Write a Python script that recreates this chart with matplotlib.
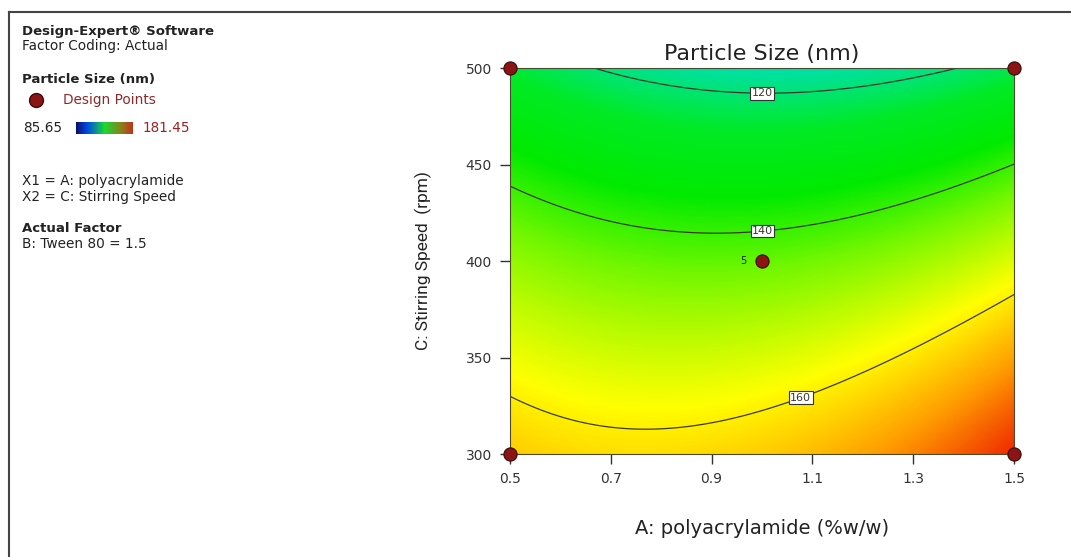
import numpy as np
import matplotlib.pyplot as plt
from matplotlib.colors import LinearSegmentedColormap
from matplotlib.lines import Line2D

# factor ranges (actual units)
a_range = [0.5, 1.5]      # A: polyacrylamide (%w/w)
c_range = [300, 500]      # C: Stirring Speed (rpm)
tween = 1.5

# quadratic model in coded units: b0, A, C, AC, A^2, C^2
coef = [143.8, 3.5, -23.95, -4.36, 7.9, -3.93]

levels = [120, 140, 160]
resp_min, resp_max = 85.65, 181.45

# design points (actual units) and replicate counts
pts_a = [0.5, 0.5, 1.5, 1.5, 1.0]
pts_c = [300, 500, 300, 500, 400]
pts_n = [1, 1, 1, 1, 5]

xticks = [0.5, 0.7, 0.9, 1.1, 1.3, 1.5]
yticks = [300, 350, 400, 450, 500]

cmap = LinearSegmentedColormap.from_list("de", [
    (0.0, (0.0, 0.0, 0.75)),
    (0.25, (0.0, 0.85, 1.0)),
    (0.42, (0.0, 0.92, 0.15)),
    (0.52, (0.0, 0.92, 0.0)),
    (0.62, (0.45, 0.97, 0.0)),
    (0.76, (1.0, 1.0, 0.0)),
    (0.87, (1.0, 0.62, 0.0)),
    (1.0, (0.93, 0.08, 0.0)),
])
# the small legend bar looks like a plain blue-green-red ramp
bar_cmap = LinearSegmentedColormap.from_list("bar", [
    (0.0, (0.05, 0.05, 0.45)),
    (0.2, (0.0, 0.3, 0.9)),
    (0.5, (0.1, 0.85, 0.2)),
    (0.8, (0.55, 0.5, 0.1)),
    (1.0, (0.75, 0.2, 0.1)),
])

A = np.linspace(a_range[0], a_range[1], 300)
C = np.linspace(c_range[0], c_range[1], 300)
AA, CC = np.meshgrid(A, C)
a = (AA - 1.0) / 0.5
c = (CC - 400) / 100
Z = coef[0] + coef[1]*a + coef[2]*c + coef[3]*a*c + coef[4]*a**2 + coef[5]*c**2

fig = plt.figure(figsize=(10.71, 5.57), dpi=100)
plt.rcParams['font.family'] = ['DejaVu Sans']

ax = fig.add_axes([0.4762, 0.1849, 0.4706, 0.693])
ax.imshow(Z, origin='lower', extent=[a_range[0], a_range[1], c_range[0], c_range[1]],
          aspect='auto', cmap=cmap, vmin=resp_min, vmax=resp_max, interpolation='bilinear')
cs = ax.contour(AA, CC, Z, levels=levels, colors='#3a3a2a', linewidths=0.9)
lbls = ax.clabel(cs, fmt='%d', fontsize=8, inline=False,
                 manual=[(1.0, 488), (1.0, 418), (1.07, 334)])
for t in lbls:
    t.set_rotation(0)
    t.set_bbox(dict(facecolor='white', edgecolor='#333333', pad=1.0, lw=0.8))
    t.set_zorder(5)

ax.scatter(pts_a, pts_c, s=90, color='#8b1414', edgecolors='#3a0a0a', lw=0.8,
           zorder=6, clip_on=False)
for pa, pc, n in zip(pts_a, pts_c, pts_n):
    if n > 1:
        ax.text(pa - 0.03, pc, str(n), fontsize=7, ha='right', va='center', color='#222222')

ax.set_xlim(a_range)
ax.set_ylim(c_range)
ax.set_xticks(xticks)
ax.set_xticklabels([f"{v:.1f}" for v in xticks])
ax.set_yticks(yticks)
ax.tick_params(direction='out', length=7, width=1, color='#333333', labelcolor='#333333',
               labelsize=10, pad=6)
for s in ax.spines.values():
    s.set_color('#4a4a30')
ax.set_title("Particle Size (nm)", fontsize=16, color='#222222', pad=6)
ax.set_xlabel("A: polyacrylamide (%w/w)", fontsize=14, color='#222222', labelpad=24)
ax.set_ylabel("C: Stirring Speed  (rpm)", fontsize=12.5, color='#222222', labelpad=24,
              family=['Roboto', 'DejaVu Sans'])

# left info panel
def px(x, y):
    return x / 1071, 1 - y / 557

tk = dict(fontsize=9.8, va='center', ha='left', color='#222222')
tb = dict(tk, fontsize=9.5, fontweight='bold')
fig.text(*px(22, 31), "Design-Expert® Software", **tb)
fig.text(*px(22, 46), "Factor Coding: Actual", **tk)
fig.text(*px(22, 80), "Particle Size (nm)", **tb)
fig.add_artist(Line2D([px(36, 0)[0]], [px(0, 100)[1]], marker='o', markersize=10,
                      color='#8b1414', markeredgecolor='#3a0a0a'))
fig.text(*px(63, 100), "Design Points", **{**tk, 'color': '#8b2a2a'})
fig.text(*px(23, 128), "85.65", **tk)
fig.text(*px(143, 128), "181.45", **{**tk, 'color': '#a02020'})
cax = fig.add_axes([76 / 1071, 1 - 134 / 557, 57 / 1071, 12 / 557])
cax.imshow(np.linspace(0, 1, 200)[None, :], aspect='auto', cmap=bar_cmap)
cax.set_axis_off()
fig.text(*px(22, 181), "X1 = A: polyacrylamide", **tk)
fig.text(*px(22, 197), "X2 = C: Stirring Speed", **tk)
fig.text(*px(22, 229), "Actual Factor", **tb)
fig.text(*px(22, 244), f"B: Tween 80 = {tween}", **tk)

# frame edges on left and top
fig.add_artist(Line2D([9 / 1071, 9 / 1071], [0, 1 - 12 / 557], color='#444444', lw=1.5))
fig.add_artist(Line2D([9 / 1071, 1], [1 - 12 / 557, 1 - 12 / 557], color='#444444', lw=1.5))

fig.savefig("out.png", dpi=100)
